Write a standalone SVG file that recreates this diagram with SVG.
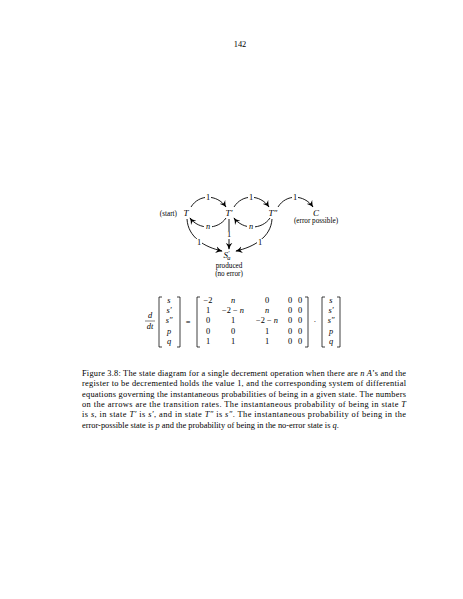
<svg xmlns="http://www.w3.org/2000/svg" width="463" height="599" viewBox="0 0 463 599">
<defs>
<style>
text{font-family:"Liberation Serif","DejaVu Serif",serif;fill:#000;font-size:8.4px}
.i{font-style:italic}
.m{text-anchor:middle}
.s{font-size:6.4px}
.e{fill:none;stroke:#000;stroke-width:0.9}
.b{fill:none;stroke:#000;stroke-width:0.75}
.lb{fill:#fff}
.sm{font-size:7.2px}
</style>
<marker id="ah" viewBox="0 0 10 10" refX="9" refY="5" markerWidth="7" markerHeight="7" markerUnits="userSpaceOnUse" orient="auto">
<path d="M0,0 Q5,4 10,5 Q5,6 0,10 L3,5 Z" fill="#000"/>
</marker>
</defs>
<rect width="463" height="599" fill="#fff"/>
<text x="240" y="47" class="m">142</text>

<g id="connectors">
<path class="e" d="M191,207 C199,194 217,194 226,207" marker-end="url(#ah)"/>
<path class="e" d="M234,207 C242,194 260,194 269,207" marker-end="url(#ah)"/>
<path class="e" d="M278,207 C286,194 304,194 313,207" marker-end="url(#ah)"/>
<path class="e" d="M226,218 C218,230 199,230 190,218" marker-end="url(#ah)"/>
<path class="e" d="M270,218 C262,230 243,230 234,218" marker-end="url(#ah)"/>
<path class="e" d="M229,219 L229,249" marker-end="url(#ah)"/>
<path class="e" d="M187,219 C188,237 204,247 222,251" marker-end="url(#ah)"/>
<path class="e" d="M272,219 C271,237 254,247 236,251" marker-end="url(#ah)"/>
<rect class="lb" x="205" y="194" width="6" height="8"/>
<text x="208" y="200" class="m">1</text>
<rect class="lb" x="248" y="194" width="6" height="8"/>
<text x="251" y="200" class="m">1</text>
<rect class="lb" x="292" y="194" width="6" height="8"/>
<text x="295" y="200" class="m">1</text>
<rect class="lb" x="204" y="223" width="8" height="8"/>
<text x="208" y="229" class="m i">n</text>
<rect class="lb" x="247" y="223" width="8" height="8"/>
<text x="251" y="229" class="m i">n</text>
<rect class="lb" x="226" y="231" width="6" height="8"/>
<text x="229" y="237" class="m">1</text>
<rect class="lb" x="196" y="239" width="6" height="8"/>
<text x="199" y="245" class="m">1</text>
<rect class="lb" x="257" y="239" width="6" height="8"/>
<text x="260" y="245" class="m">1</text>
</g>

<g id="T">
<text x="177" y="216" class="sm" style="text-anchor:end">(start)</text>
<text x="186" y="216" class="m i" style="font-size:9px">T</text>
</g>
<g id="Tp">
<text x="229" y="216" class="m i" style="font-size:9px">T′</text>
</g>
<g id="Tpp">
<text x="273" y="216" class="m i" style="font-size:9px">T″</text>
</g>
<g id="C">
<text x="316" y="216" class="m i" style="font-size:9px">C</text>
<text x="316" y="223" class="m sm">(error possible)</text>
</g>
<g id="Sa">
<text x="227" y="258" class="m i" style="font-size:9px">S<tspan class="s" dy="-3">′</tspan><tspan class="s" dy="4.5" dx="-2">a</tspan></text>
<text x="229" y="267.5" class="m sm">produced</text>
<text x="229" y="275.5" class="m sm">(no error)</text>
</g>

<g id="equation">
<text x="150" y="318" class="m i">d</text>
<line x1="145" y1="321" x2="155" y2="321" stroke="#000" stroke-width="0.5"/>
<text x="150" y="329" class="m i">dt</text>
<path class="b" d="M162,297 H159 V347 H162 M177,297 H180 V347 H177"/>
<g class="i">
<text x="169" y="303" class="m">s</text>
<text x="169" y="313" class="m">s′</text>
<text x="169" y="323" class="m">s″</text>
<text x="169" y="334" class="m">p</text>
<text x="169" y="344" class="m">q</text>
</g>
<text x="188" y="325" class="m">=</text>
<path class="b" d="M200,297 H197 V347 H200 M305,297 H308 V347 H305"/>
<text x="208" y="303" class="m">−2</text>
<text x="233" y="303" class="m i">n</text>
<text x="267" y="303" class="m">0</text>
<text x="290" y="303" class="m">0</text>
<text x="300" y="303" class="m">0</text>
<text x="208" y="313" class="m">1</text>
<text x="233" y="313" class="m">−2 − <tspan class="i">n</tspan></text>
<text x="267" y="313" class="m i">n</text>
<text x="290" y="313" class="m">0</text>
<text x="300" y="313" class="m">0</text>
<text x="208" y="323" class="m">0</text>
<text x="233" y="323" class="m">1</text>
<text x="267" y="323" class="m">−2 − <tspan class="i">n</tspan></text>
<text x="290" y="323" class="m">0</text>
<text x="300" y="323" class="m">0</text>
<text x="208" y="334" class="m">0</text>
<text x="233" y="334" class="m">0</text>
<text x="267" y="334" class="m">1</text>
<text x="290" y="334" class="m">0</text>
<text x="300" y="334" class="m">0</text>
<text x="208" y="344" class="m">1</text>
<text x="233" y="344" class="m">1</text>
<text x="267" y="344" class="m">1</text>
<text x="290" y="344" class="m">0</text>
<text x="300" y="344" class="m">0</text>
<text x="315" y="324" class="m">·</text>
<path class="b" d="M325,297 H322 V347 H325 M337,297 H340 V347 H337"/>
<g class="i">
<text x="331" y="303" class="m">s</text>
<text x="331" y="313" class="m">s′</text>
<text x="331" y="323" class="m">s″</text>
<text x="331" y="334" class="m">p</text>
<text x="331" y="344" class="m">q</text>
</g>
</g>

<g id="caption">
<text x="82" y="376" textLength="324" lengthAdjust="spacing">Figure 3.8: The state diagram for a single decrement operation when there are <tspan class="i">n A</tspan>’s and the</text>
<text x="82" y="386" textLength="324" lengthAdjust="spacing">register to be decremented holds the value 1, and the corresponding system of differential</text>
<text x="82" y="396.5" textLength="324" lengthAdjust="spacing">equations governing the instantaneous probabilities of being in a given state. The numbers</text>
<text x="82" y="407" textLength="324" lengthAdjust="spacing">on the arrows are the transition rates. The instantaneous probability of being in state <tspan class="i">T</tspan></text>
<text x="82" y="417" textLength="324" lengthAdjust="spacing">is <tspan class="i">s</tspan>, in state <tspan class="i">T′</tspan> is <tspan class="i">s′</tspan>, and in state <tspan class="i">T″</tspan> is <tspan class="i">s″</tspan>. The instantaneous probability of being in the</text>
<text x="82" y="427.5">error-possible state is <tspan class="i">p</tspan> and the probability of being in the no-error state is <tspan class="i">q</tspan>.</text>
</g>
</svg>
